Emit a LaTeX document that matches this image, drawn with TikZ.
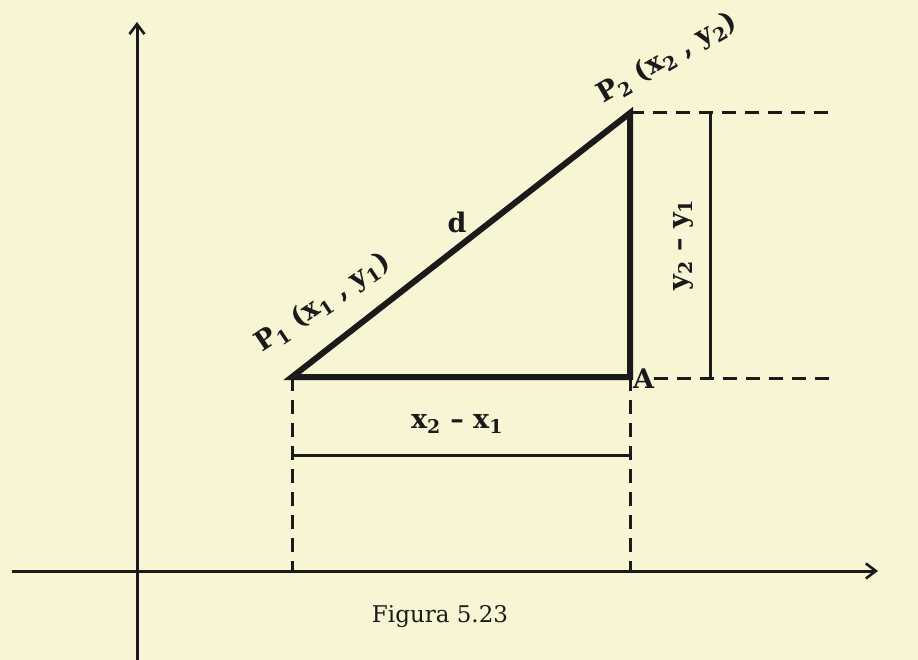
\documentclass[tikz,border=0pt]{standalone}
\usepackage{fontspec}
\setmainfont{DejaVu Serif}
\usetikzlibrary{arrows.meta,positioning,calc}
\definecolor{Paper}{HTML}{F7F5D3}
\definecolor{Ink}{HTML}{1A1A1A}
\tikzset{
  axisline/.style={-{Straight Barb[length=10pt,width=15pt,line width=2.6pt]},line width=3pt,draw=Ink},
  legline/.style={line width=6pt,draw=Ink,line join=miter},
  guideline/.style={line width=3pt,draw=Ink,dash pattern=on 14pt off 9pt},
  dimline/.style={line width=3pt,draw=Ink},
  lbl/.style={text=Ink,font=\fontsize{27}{30}\selectfont\bfseries,inner sep=0pt}
}

\begin{document}
\begin{tikzpicture}[x=1pt,y=-1pt]
  \useasboundingbox[fill=Paper] (0,0) rectangle (918,660);
  % points of the triangle
  \coordinate (P1) at (292,377);
  \coordinate (P2) at (630,113);
  \coordinate (A) at (630,377);
  % axes
  \coordinate (ybot) at (137,660);
  \coordinate (ytop) at (137,22);
  \coordinate (xleft) at (12,571);
  \coordinate (xright) at (878,571);
  \draw[axisline] (ybot)--(ytop);
  \draw[axisline] (xleft)--(xright);
  % projections
  \coordinate (p1foot) at (292,571);
  \coordinate (afoot) at (630,571);
  \coordinate (p2end) at (836,113);
  \coordinate (aend) at (836,378);
  \draw[guideline] (P1)--(p1foot);
  \draw[guideline] (A)--(afoot);
  \draw[guideline] (P2)--(p2end);
  \node[lbl,anchor=base west] (alab) at ($(A)+(3,11)$) {A};
  \draw[guideline] (alab.east |- aend)--(aend);
  % triangle
  \draw[legline] (P1)--(P2)--(A)--cycle;
  % dimensions
  \coordinate (dxl) at (292,455);
  \coordinate (dxr) at (630,455);
  \coordinate (dyt) at (710,113);
  \coordinate (dyb) at (710,378);
  \draw[dimline] (dxl)--(dxr);
  \draw[dimline] (dyt)--(dyb);
  \node[lbl] (dx) at (457,424) {x\textsubscript{2} -- x\textsubscript{1}};
  \node[lbl,rotate=90] (dy) at (683,245) {y\textsubscript{2} -- y\textsubscript{1}};
  \node[lbl] (dist) at (457,222) {d};
  \node[lbl,rotate=34,anchor=base west] (p1lab) at (262,353) {P\textsubscript{1} (x\textsubscript{1} , y\textsubscript{1})};
  \node[lbl,rotate=30,anchor=base west] (p2lab) at (603,104) {P\textsubscript{2} (x\textsubscript{2} , y\textsubscript{2})};
  \node[text=Ink,font=\fontsize{23}{26}\selectfont,inner sep=0pt] (fig) at (440,617) {Figura 5.23};
\end{tikzpicture}
\end{document}
